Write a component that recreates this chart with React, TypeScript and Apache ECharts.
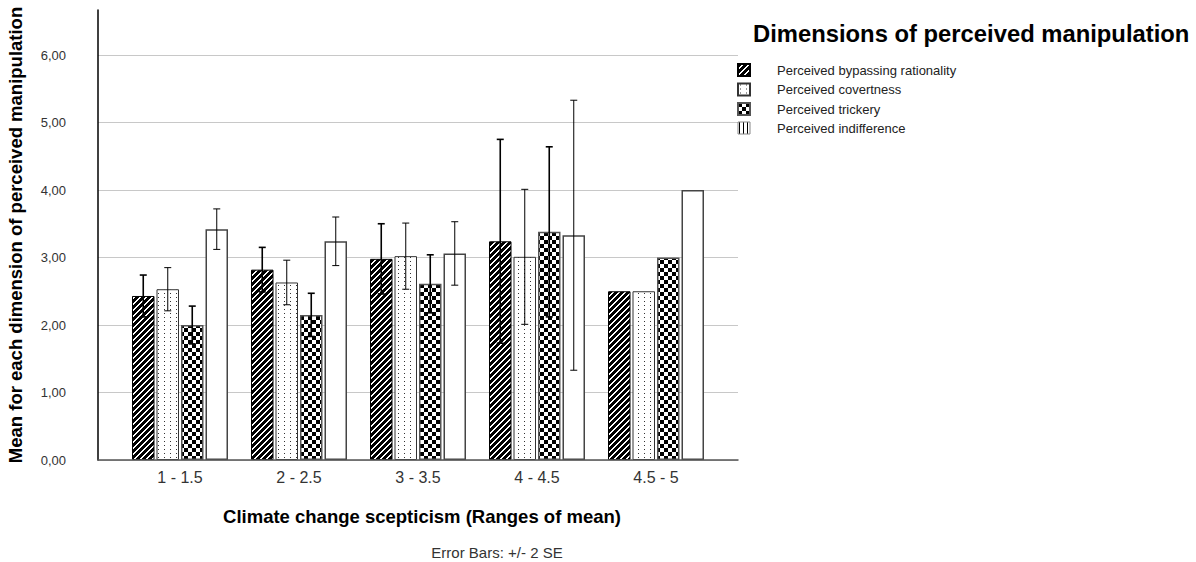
import React, { useEffect, useRef } from "react";
import * as echarts from "echarts";

// Ranges of mean climate-change scepticism
const categories = ["1 - 1.5", "2 - 2.5", "3 - 3.5", "4 - 4.5", "4.5 - 5"];

const seriesNames = [
  "Perceived bypassing rationality",
  "Perceived covertness",
  "Perceived trickery",
  "Perceived indifference",
];

// Means per dimension
const bypassingMeans = [2.43, 2.82, 2.98, 3.24, 2.5];
const covertnessMeans = [2.53, 2.63, 3.02, 3.01, 2.5];
const trickeryMeans = [2.0, 2.15, 2.61, 3.38, 3.0];
const indifferenceMeans = [3.42, 3.24, 3.06, 3.33, 4.0];

// Error bar half-widths (2 SE); null where no error bar is shown
const bypassingErr = [0.31, 0.33, 0.52, 1.51, null];
const covertnessErr = [0.32, 0.33, 0.49, 1.0, null];
const trickeryErr = [0.28, 0.32, 0.43, 1.26, null];
const indifferenceErr = [0.3, 0.36, 0.47, 2.0, null];

const yTicks = [0, 1, 2, 3, 4, 5, 6];

const FONT = '"Liberation Sans", Arial, Helvetica, sans-serif';
const BAR_W = 22.5;
const BAR_GAP_PX = 2;

type Paint = (x: number, y: number) => string | null;

function makeTile(w: number, h: number, bg: string, paint: Paint) {
  const c = document.createElement("canvas");
  c.width = w;
  c.height = h;
  const ctx = c.getContext("2d")!;
  ctx.fillStyle = bg;
  ctx.fillRect(0, 0, w, h);
  for (let y = 0; y < h; y++) {
    for (let x = 0; x < w; x++) {
      const col = paint(x, y);
      if (col) {
        ctx.fillStyle = col;
        ctx.fillRect(x, y, 1, 1);
      }
    }
  }
  return { image: c.toDataURL(), repeat: "repeat", imageWidth: w, imageHeight: h };
}

export default function App() {
  const ref = useRef<HTMLDivElement>(null);

  useEffect(() => {
    if (!ref.current) return;
    const chart = echarts.init(ref.current, null, { renderer: "svg" });

    const stripes = makeTile(6, 6, "#ffffff", (x, y) => ((x + y) % 6 < 4 ? "#000000" : null));
    const dots = makeTile(6, 8, "#ffffff", (x, y) =>
      (x === 2 && (y === 1 || y === 5)) ? "#333333" : null
    );
    const checker = makeTile(8, 8, "#ffffff", (x, y) =>
      (Math.floor(x / 4) + Math.floor(y / 4)) % 2 === 0 ? "#000000" : null
    );
    const vlines = makeTile(4, 1, "#ffffff", (x) => (x === 1 ? "#000000" : null));

    const means = [bypassingMeans, covertnessMeans, trickeryMeans, indifferenceMeans];
    const errs = [bypassingErr, covertnessErr, trickeryErr, indifferenceErr];
    const fills: any[] = [stripes, dots, checker, "#ffffff"];
    const borders = ["#000000", "#333333", "#555555", "#444444"];
    const borderWidths = [1, 1, 1.5, 1.5];
    const errWidths = [1.6, 1, 1.6, 1];

    const barSeries = seriesNames.map((name, i) => ({
      name,
      type: "bar",
      xAxisIndex: 2,
      yAxisIndex: 2,
      barWidth: BAR_W,
      barGap: (BAR_GAP_PX / BAR_W) * 100 + "%",
      data: means[i],
      itemStyle: { color: fills[i], borderColor: borders[i], borderWidth: borderWidths[i] },
      z: 2,
    }));

    const errData: number[][] = [];
    errs.forEach((arr, s) => {
      arr.forEach((e, c) => {
        if (e != null) errData.push([c, s, means[s][c], e]);
      });
    });

    const errorSeries = {
      type: "custom",
      name: "error",
      xAxisIndex: 2,
      yAxisIndex: 2,
      z: 5,
      encode: { x: 0, y: 2 },
      data: errData,
      renderItem: (params: any, api: any) => {
        const cat = api.value(0);
        const s = api.value(1);
        const m = api.value(2);
        const e = api.value(3);
        const base = api.coord([cat, m]);
        const x = base[0] + (s - 1.5) * (BAR_W + BAR_GAP_PX);
        const top = api.coord([cat, m + e])[1];
        const bot = api.coord([cat, m - e])[1];
        const style = { stroke: "#000000", lineWidth: errWidths[s] };
        return {
          type: "group",
          children: [
            { type: "line", shape: { x1: x, y1: top, x2: x, y2: bot }, style },
            { type: "line", shape: { x1: x - 3.5, y1: top, x2: x + 3.5, y2: top }, style },
            { type: "line", shape: { x1: x - 3.5, y1: bot, x2: x + 3.5, y2: bot }, style },
          ],
        };
      },
    };

    const gridBase = { outerBoundsMode: "none", containLabel: false, top: 55, bottom: 102 };

    const option: any = {
      animation: false,
      backgroundColor: "#ffffff",
      textStyle: { fontFamily: FONT },
      grid: [
        { ...gridBase, left: 98, right: 458, top: 10 },
        { ...gridBase, left: 98, right: 458 },
        { ...gridBase, left: 120.5, right: 480.5 },
      ],
      xAxis: [
        {
          type: "value",
          gridIndex: 0,
          min: 0,
          max: 1,
          z: 6,
          axisLine: { show: true, lineStyle: { color: "#555555", width: 1.5 } },
          axisTick: { show: false },
          axisLabel: { show: false },
          splitLine: { show: false },
          name: "Climate change scepticism (Ranges of mean)",
          nameLocation: "middle",
          nameGap: 47,
          nameTextStyle: {
            fontFamily: FONT,
            fontSize: 18.5,
            fontWeight: "bold",
            color: "#000000",
            padding: [0, 0, 0, 8],
          },
        },
        {
          type: "value",
          gridIndex: 1,
          min: 0,
          max: 1,
          show: false,
        },
        {
          type: "category",
          gridIndex: 2,
          data: categories,
          axisLine: { show: false },
          axisTick: { show: false },
          axisLabel: { fontFamily: FONT, fontSize: 16, color: "#333333", margin: 9 },
          splitLine: { show: false },
        },
      ],
      yAxis: [
        {
          type: "value",
          gridIndex: 0,
          min: 0,
          max: 20 / 3,
          z: 6,
          axisLine: { show: true, lineStyle: { color: "#000000", width: 1.5 } },
          axisTick: { show: false },
          axisLabel: { show: false },
          splitLine: { show: false },
          name: "Mean for each dimension of perceived manipulation",
          nameLocation: "middle",
          nameGap: 73,
          nameTextStyle: {
            fontFamily: FONT,
            fontSize: 18.5,
            fontWeight: "bold",
            color: "#000000",
          },
        },
        {
          type: "value",
          gridIndex: 1,
          min: yTicks[0],
          max: yTicks[yTicks.length - 1],
          interval: 1,
          axisLine: { show: false },
          axisTick: { show: false },
          axisLabel: {
            fontFamily: FONT,
            fontSize: 13,
            color: "#333333",
            margin: 32,
            formatter: (v: number) => v.toFixed(2).replace(".", ","),
          },
          splitLine: { show: true, lineStyle: { color: "#c8c8c8", width: 1 } },
        },
        {
          type: "value",
          gridIndex: 2,
          min: yTicks[0],
          max: yTicks[yTicks.length - 1],
          show: false,
        },
      ],
      legend: {
        orient: "vertical",
        left: 732,
        top: 58,
        icon: "rect",
        itemWidth: 12,
        itemHeight: 12,
        itemGap: 5.5,
        textStyle: {
          fontFamily: FONT,
          fontSize: 13,
          color: "#222222",
          lineHeight: 12,
          padding: [0, 0, 0, 22],
        },
        data: seriesNames.map((name, i) =>
          i === 3 ? { name, itemStyle: { color: vlines, borderColor: "#888888", borderWidth: 1 } } : { name }
        ),
      },
      graphic: [
        {
          type: "text",
          left: 753,
          top: 21,
          style: {
            text: "Dimensions of perceived manipulation",
            font: `bold 23.8px ${FONT}`,
            fill: "#000000",
          },
        },
        {
          type: "text",
          x: 497,
          y: 552,
          style: {
            text: "Error Bars: +/- 2 SE",
            font: `15px ${FONT}`,
            fill: "#333333",
            textAlign: "center",
            textVerticalAlign: "middle",
          },
        },
      ],
      series: [...barSeries, errorSeries],
    };

    chart.setOption(option);
    return () => chart.dispose();
  }, []);

  return (
    <div
      ref={ref}
      style={{ position: "absolute", left: 0, top: 0, width: 1196, height: 562, background: "#ffffff" }}
    />
  );
}
